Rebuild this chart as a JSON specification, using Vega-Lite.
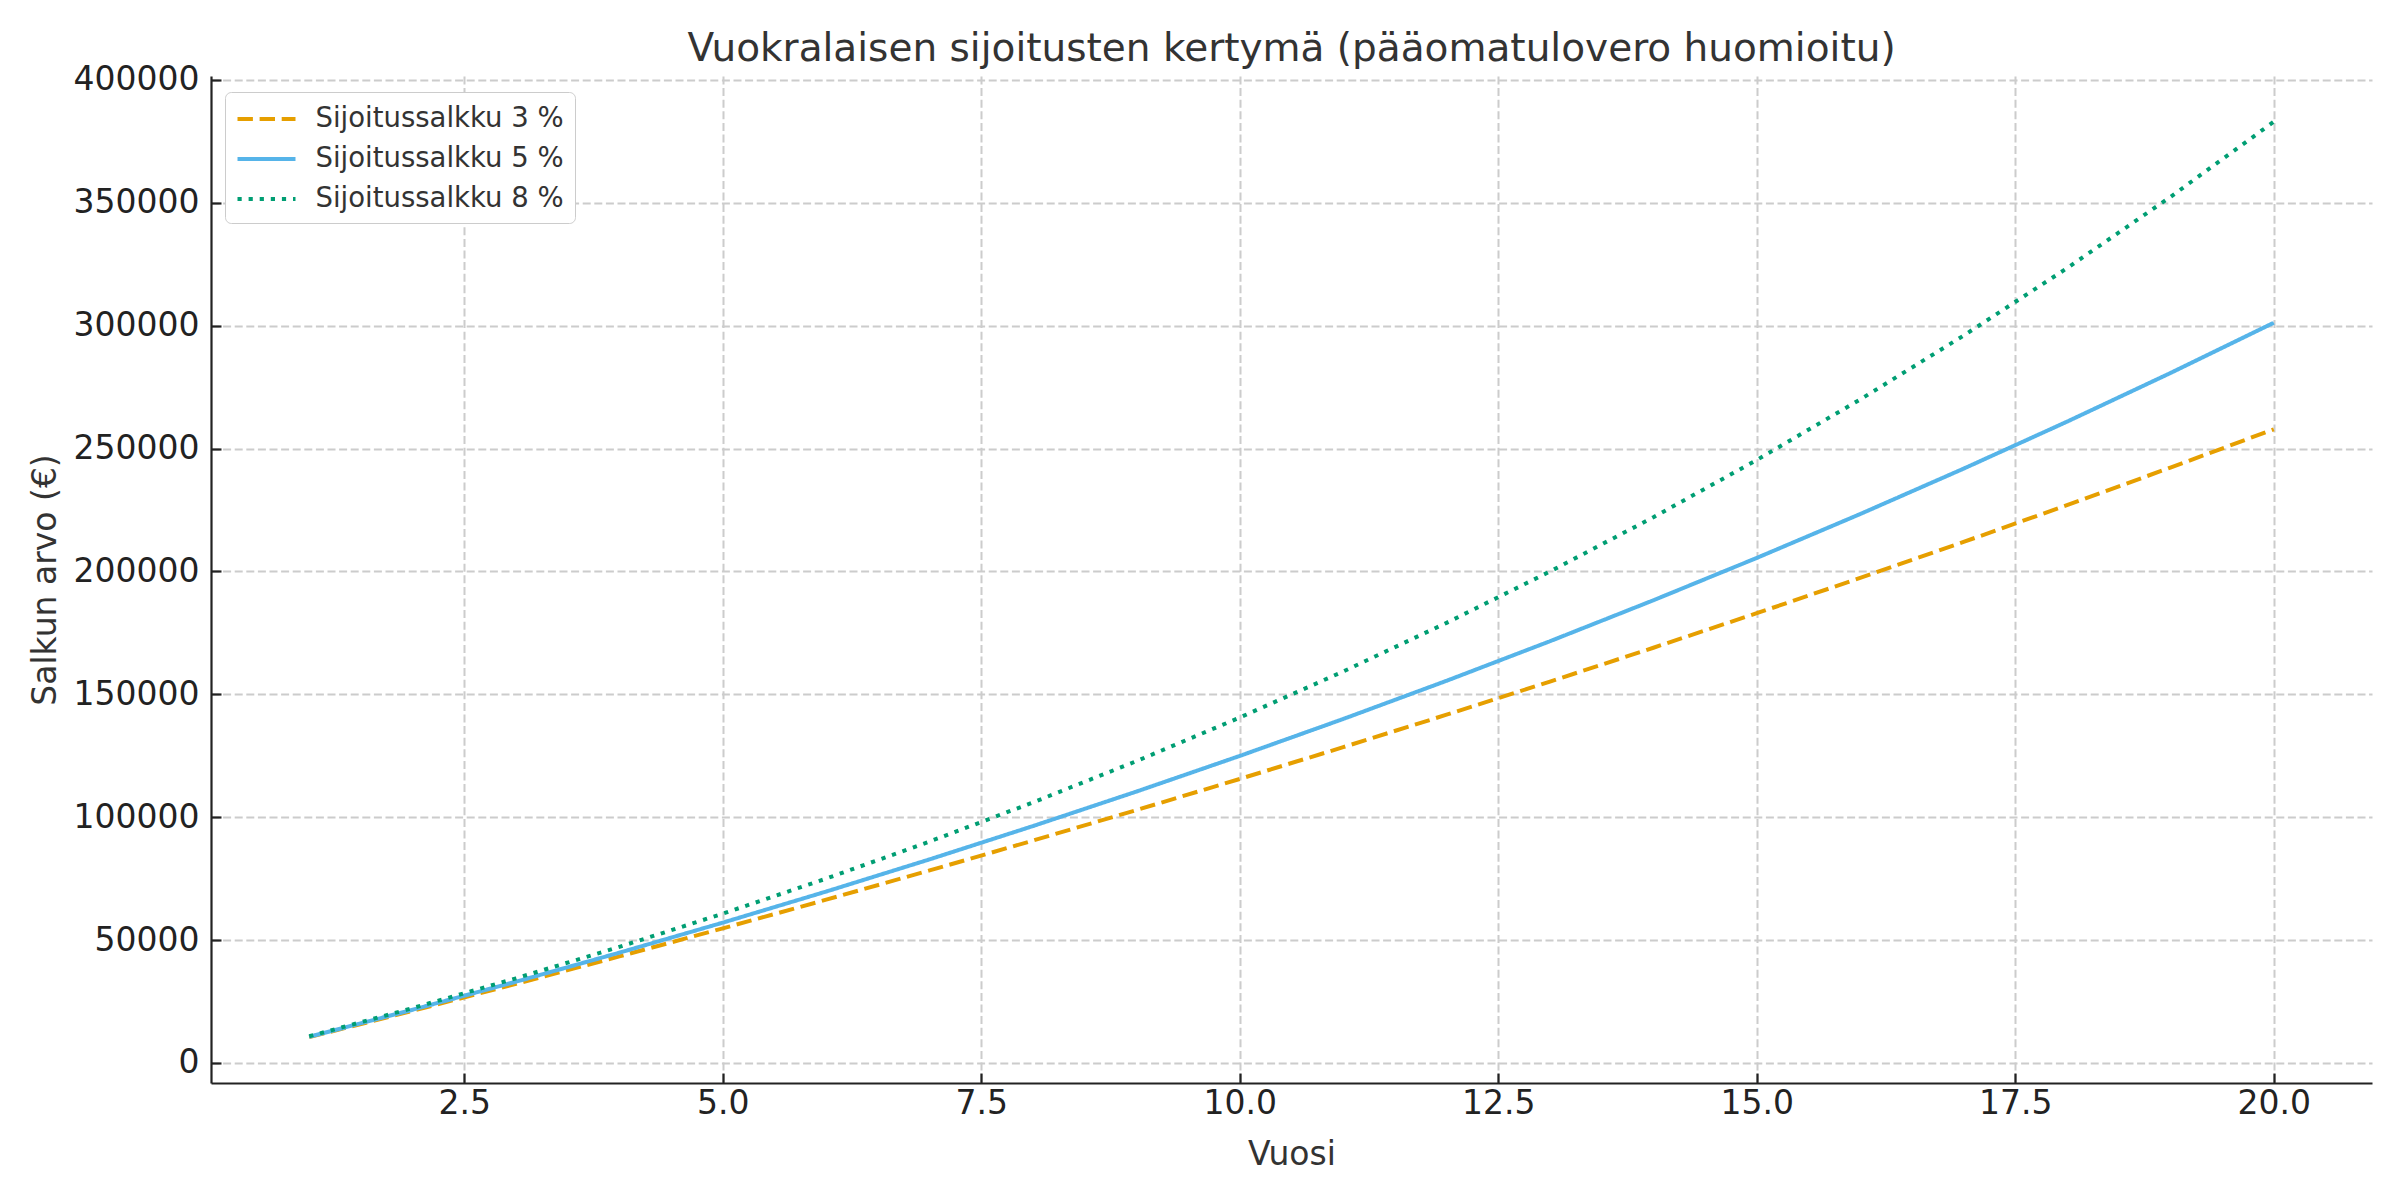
{
  "$schema": "https://vega.github.io/schema/vega-lite/v6.json",
  "autosize": "none",
  "width": 2161,
  "height": 1007,
  "padding": {"left": 211, "top": 76, "right": 28, "bottom": 117},
  "background": "white",
  "title": {
    "text": "Vuokralaisen sijoitusten kertymä (pääomatulovero huomioitu)",
    "font": "DejaVu Sans",
    "fontSize": 39,
    "fontWeight": "normal",
    "color": "#333333",
    "anchor": "middle",
    "offset": -5
  },
  "config": {
    "view": {"stroke": null},
    "font": "DejaVu Sans",
    "axis": {
      "labelFont": "DejaVu Sans",
      "titleFont": "DejaVu Sans",
      "labelFontSize": 33,
      "titleFontSize": 33,
      "labelColor": "#222222",
      "titleColor": "#333333",
      "titleFontWeight": "normal",
      "domainColor": "#222222",
      "domainWidth": 2.2,
      "tickColor": "#222222",
      "tickWidth": 2.2,
      "tickSize": -10,
      "labelPadding": 22,
      "gridColor": "#cccccc",
      "gridWidth": 2,
      "gridDash": [8, 3.6]
    }
  },
  "data": {
    "values": [
      {"Vuosi": 1, "sarja": "Sijoitussalkku 3 %", "arvo": 10506},
      {"Vuosi": 2, "sarja": "Sijoitussalkku 3 %", "arvo": 21233},
      {"Vuosi": 3, "sarja": "Sijoitussalkku 3 %", "arvo": 32185},
      {"Vuosi": 4, "sarja": "Sijoitussalkku 3 %", "arvo": 43367},
      {"Vuosi": 5, "sarja": "Sijoitussalkku 3 %", "arvo": 54784},
      {"Vuosi": 6, "sarja": "Sijoitussalkku 3 %", "arvo": 66441},
      {"Vuosi": 7, "sarja": "Sijoitussalkku 3 %", "arvo": 78342},
      {"Vuosi": 8, "sarja": "Sijoitussalkku 3 %", "arvo": 90493},
      {"Vuosi": 9, "sarja": "Sijoitussalkku 3 %", "arvo": 102899},
      {"Vuosi": 10, "sarja": "Sijoitussalkku 3 %", "arvo": 115566},
      {"Vuosi": 11, "sarja": "Sijoitussalkku 3 %", "arvo": 128499},
      {"Vuosi": 12, "sarja": "Sijoitussalkku 3 %", "arvo": 141703},
      {"Vuosi": 13, "sarja": "Sijoitussalkku 3 %", "arvo": 155185},
      {"Vuosi": 14, "sarja": "Sijoitussalkku 3 %", "arvo": 168950},
      {"Vuosi": 15, "sarja": "Sijoitussalkku 3 %", "arvo": 183004},
      {"Vuosi": 16, "sarja": "Sijoitussalkku 3 %", "arvo": 197353},
      {"Vuosi": 17, "sarja": "Sijoitussalkku 3 %", "arvo": 212003},
      {"Vuosi": 18, "sarja": "Sijoitussalkku 3 %", "arvo": 226961},
      {"Vuosi": 19, "sarja": "Sijoitussalkku 3 %", "arvo": 242233},
      {"Vuosi": 20, "sarja": "Sijoitussalkku 3 %", "arvo": 257826},
      {"Vuosi": 1, "sarja": "Sijoitussalkku 5 %", "arvo": 10650},
      {"Vuosi": 2, "sarja": "Sijoitussalkku 5 %", "arvo": 21673},
      {"Vuosi": 3, "sarja": "Sijoitussalkku 5 %", "arvo": 33082},
      {"Vuosi": 4, "sarja": "Sijoitussalkku 5 %", "arvo": 44890},
      {"Vuosi": 5, "sarja": "Sijoitussalkku 5 %", "arvo": 57111},
      {"Vuosi": 6, "sarja": "Sijoitussalkku 5 %", "arvo": 69760},
      {"Vuosi": 7, "sarja": "Sijoitussalkku 5 %", "arvo": 82852},
      {"Vuosi": 8, "sarja": "Sijoitussalkku 5 %", "arvo": 96402},
      {"Vuosi": 9, "sarja": "Sijoitussalkku 5 %", "arvo": 110426},
      {"Vuosi": 10, "sarja": "Sijoitussalkku 5 %", "arvo": 124941},
      {"Vuosi": 11, "sarja": "Sijoitussalkku 5 %", "arvo": 139964},
      {"Vuosi": 12, "sarja": "Sijoitussalkku 5 %", "arvo": 155513},
      {"Vuosi": 13, "sarja": "Sijoitussalkku 5 %", "arvo": 171606},
      {"Vuosi": 14, "sarja": "Sijoitussalkku 5 %", "arvo": 188262},
      {"Vuosi": 15, "sarja": "Sijoitussalkku 5 %", "arvo": 205501},
      {"Vuosi": 16, "sarja": "Sijoitussalkku 5 %", "arvo": 223344},
      {"Vuosi": 17, "sarja": "Sijoitussalkku 5 %", "arvo": 241811},
      {"Vuosi": 18, "sarja": "Sijoitussalkku 5 %", "arvo": 260925},
      {"Vuosi": 19, "sarja": "Sijoitussalkku 5 %", "arvo": 280708},
      {"Vuosi": 20, "sarja": "Sijoitussalkku 5 %", "arvo": 301183},
      {"Vuosi": 1, "sarja": "Sijoitussalkku 8 %", "arvo": 10866},
      {"Vuosi": 2, "sarja": "Sijoitussalkku 8 %", "arvo": 22341},
      {"Vuosi": 3, "sarja": "Sijoitussalkku 8 %", "arvo": 34458},
      {"Vuosi": 4, "sarja": "Sijoitussalkku 8 %", "arvo": 47254},
      {"Vuosi": 5, "sarja": "Sijoitussalkku 8 %", "arvo": 60766},
      {"Vuosi": 6, "sarja": "Sijoitussalkku 8 %", "arvo": 75035},
      {"Vuosi": 7, "sarja": "Sijoitussalkku 8 %", "arvo": 90103},
      {"Vuosi": 8, "sarja": "Sijoitussalkku 8 %", "arvo": 106015},
      {"Vuosi": 9, "sarja": "Sijoitussalkku 8 %", "arvo": 122818},
      {"Vuosi": 10, "sarja": "Sijoitussalkku 8 %", "arvo": 140562},
      {"Vuosi": 11, "sarja": "Sijoitussalkku 8 %", "arvo": 159300},
      {"Vuosi": 12, "sarja": "Sijoitussalkku 8 %", "arvo": 179087},
      {"Vuosi": 13, "sarja": "Sijoitussalkku 8 %", "arvo": 199982},
      {"Vuosi": 14, "sarja": "Sijoitussalkku 8 %", "arvo": 222047},
      {"Vuosi": 15, "sarja": "Sijoitussalkku 8 %", "arvo": 245348},
      {"Vuosi": 16, "sarja": "Sijoitussalkku 8 %", "arvo": 269954},
      {"Vuosi": 17, "sarja": "Sijoitussalkku 8 %", "arvo": 295938},
      {"Vuosi": 18, "sarja": "Sijoitussalkku 8 %", "arvo": 323377},
      {"Vuosi": 19, "sarja": "Sijoitussalkku 8 %", "arvo": 352352},
      {"Vuosi": 20, "sarja": "Sijoitussalkku 8 %", "arvo": 382950}
    ]
  },
  "mark": {"type": "line", "strokeWidth": 4, "strokeCap": "butt", "strokeJoin": "round"},
  "encoding": {
    "x": {
      "field": "Vuosi",
      "type": "quantitative",
      "scale": {"domain": [0.05, 20.95], "nice": false, "zero": false},
      "axis": {"values": [2.5, 5, 7.5, 10, 12.5, 15, 17.5, 20], "format": ".1f", "title": "Vuosi", "titlePadding": 18, "labelPadding": 14}
    },
    "y": {
      "field": "arvo",
      "type": "quantitative",
      "scale": {"domain": [-8138, 401572], "nice": false, "zero": false},
      "axis": {"values": [0, 50000, 100000, 150000, 200000, 250000, 300000, 350000, 400000], "format": "d", "title": "Salkun arvo (€)", "titlePadding": 11, "labelPadding": 22}
    },
    "color": {
      "field": "sarja",
      "type": "nominal",
      "scale": {
        "domain": ["Sijoitussalkku 3 %", "Sijoitussalkku 5 %", "Sijoitussalkku 8 %"],
        "range": ["#E69F00", "#56B4E9", "#009E73"]
      },
      "legend": {
        "title": null,
        "orient": "none",
        "legendX": 14,
        "legendY": 16,
        "fillColor": "white",
        "strokeColor": "#cccccc",
        "cornerRadius": 6,
        "padding": 10.5,
        "symbolType": "M-1,0H3",
        "symbolSize": 841,
        "symbolStrokeWidth": 4,
        "labelFont": "DejaVu Sans",
        "labelFontSize": 27.5,
        "labelColor": "#333333",
        "labelOffset": 47,
        "labelLimit": 0,
        "rowPadding": 10
      }
    },
    "strokeDash": {
      "field": "sarja",
      "type": "nominal",
      "scale": {
        "domain": ["Sijoitussalkku 3 %", "Sijoitussalkku 5 %", "Sijoitussalkku 8 %"],
        "range": [[15.4, 6.7], [1, 0], [4.2, 6.9]]
      },
      "legend": {
        "title": null,
        "orient": "none",
        "legendX": 14,
        "legendY": 16,
        "fillColor": "white",
        "strokeColor": "#cccccc",
        "cornerRadius": 6,
        "padding": 10.5,
        "symbolType": "M-1,0H3",
        "symbolSize": 841,
        "symbolStrokeWidth": 4,
        "labelFont": "DejaVu Sans",
        "labelFontSize": 27.5,
        "labelColor": "#333333",
        "labelOffset": 47,
        "labelLimit": 0,
        "rowPadding": 10
      }
    }
  }
}
